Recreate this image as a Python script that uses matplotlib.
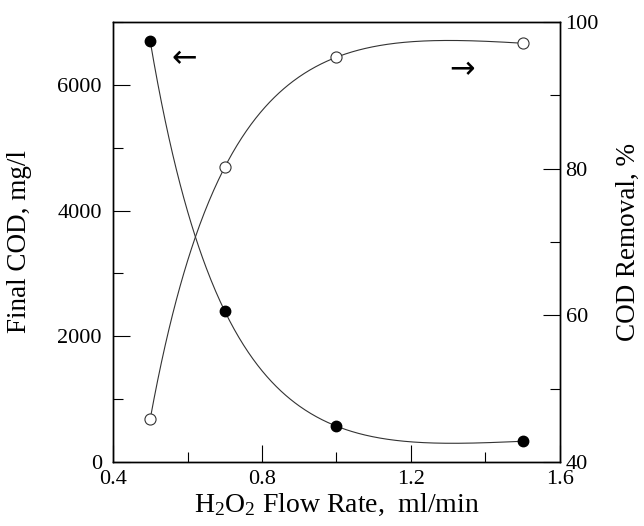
import numpy as np
import matplotlib
matplotlib.use("Agg")
import matplotlib.pyplot as plt
from matplotlib.ticker import MultipleLocator

plt.rcParams['font.family'] = ['Liberation Serif', 'DejaVu Serif']
plt.rcParams['mathtext.default'] = 'regular'

# H2O2 flow rate, ml/min
flow = [0.5, 0.7, 1.0, 1.5]
# final COD, mg/l (left axis, filled circles)
final_cod = [6690, 2400, 570, 330]
# COD removal, % (right axis, open circles)
removal = [45.9, 80.2, 95.2, 97.1]

fig = plt.figure(figsize=(6.44, 5.26), dpi=100)
ax = fig.add_axes([0.1755, 0.1217, 0.694, 0.8365])
ax2 = ax.twinx()

# smooth curves: cubic through the points in log(flow)
lx = np.log(flow)
xs = np.linspace(min(flow), max(flow), 400)
cod_fit = np.polyval(np.polyfit(lx, final_cod, 3), np.log(xs))
rem_fit = np.polyval(np.polyfit(lx, removal, 3), np.log(xs))

ax.plot(xs, cod_fit, color='#333333', lw=0.8)
ax.plot(flow, final_cod, 'o', color='black', ms=7.5)
ax2.plot(xs, rem_fit, color='#333333', lw=0.8)
ax2.plot(flow, removal, 'o', mfc='white', mec='#333333', mew=0.8, ms=8)

ax.set_xlim(0.4, 1.6)
ax.set_ylim(0, 7000)
ax2.set_ylim(40, 100)

ax.xaxis.set_major_locator(MultipleLocator(0.4))
ax.xaxis.set_minor_locator(MultipleLocator(0.2))
ax.yaxis.set_major_locator(MultipleLocator(2000))
ax.yaxis.set_minor_locator(MultipleLocator(1000))
ax2.yaxis.set_major_locator(MultipleLocator(20))
ax2.yaxis.set_minor_locator(MultipleLocator(10))

for a in (ax, ax2):
    a.tick_params(which='major', direction='in', length=12, width=0.8, labelsize=16)
    a.tick_params(which='minor', direction='in', length=7, width=0.8)
    for s in a.spines.values():
        s.set_linewidth(1.0)
ax.tick_params(axis='x', pad=6)
ax.tick_params(axis='y', pad=8)
ax2.tick_params(axis='y', pad=4)

ax.set_xlabel('H$_2$O$_2$ Flow Rate,  ml/min', fontsize=20, labelpad=2)
ax.set_ylabel('Final COD, mg/l', fontsize=19.5, labelpad=18)
ax2.set_ylabel('COD Removal, %', fontsize=19.5, labelpad=12)

# arrows pointing to each curve's axis
ax.text(0.59, 6420, '\u2190', fontsize=22, ha='center', va='center',
        family=['DejaVu Sans'])
ax2.text(1.337, 93.5, '\u2192', fontsize=22, ha='center', va='center',
         family=['DejaVu Sans'])

fig.savefig('out.png', dpi=100)
